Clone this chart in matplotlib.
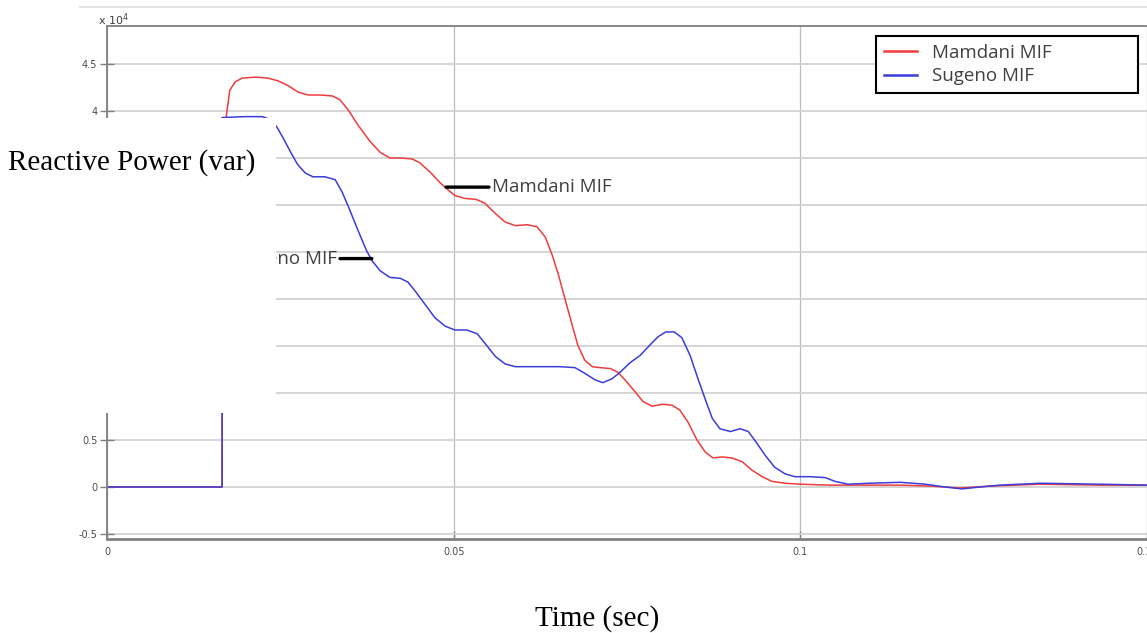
"""Reactive power of the Mamdani and Sugeno MIF controllers, MATLAB-figure look."""
import matplotlib
matplotlib.use("Agg")

import matplotlib.pyplot as plt
from matplotlib.lines import Line2D
from matplotlib.patches import Rectangle
from matplotlib.ticker import FuncFormatter

# time in seconds, reactive power in units of 1e4 var
mamdani_t = [0, 0.0166, 0.0167, 0.0172, 0.0177, 0.0185, 0.0195, 0.0214, 0.0232,
             0.0247, 0.0261, 0.0276, 0.0290, 0.0307, 0.0325, 0.0336, 0.0348,
             0.0362, 0.0379, 0.0394, 0.0408, 0.0423, 0.0440, 0.0451, 0.0466,
             0.0480, 0.0492, 0.0502, 0.0516, 0.0532, 0.0545, 0.0560, 0.0574,
             0.0589, 0.0606, 0.0620, 0.0632, 0.0642, 0.0651, 0.0661, 0.0671,
             0.0679, 0.0689, 0.0700, 0.0711, 0.0726, 0.0737, 0.0747, 0.0762,
             0.0773, 0.0786, 0.0801, 0.0815, 0.0826, 0.0838, 0.0851, 0.0863,
             0.0874, 0.0887, 0.0901, 0.0916, 0.0930, 0.0945, 0.0959, 0.0978,
             0.1000, 0.1043, 0.1086, 0.1144, 0.1187, 0.1230, 0.1274, 0.1346,
             0.1432, 0.1500]
mamdani_q = [0, 0, 3.59, 3.94, 4.22, 4.31, 4.35, 4.36, 4.35, 4.32, 4.27, 4.20,
             4.17, 4.17, 4.16, 4.12, 4.01, 3.85, 3.68, 3.56, 3.50, 3.50, 3.49,
             3.45, 3.35, 3.24, 3.16, 3.10, 3.07, 3.06, 3.02, 2.91, 2.82, 2.78,
             2.79, 2.77, 2.66, 2.47, 2.26, 1.99, 1.72, 1.51, 1.35, 1.28, 1.27,
             1.26, 1.22, 1.14, 1.01, 0.91, 0.86, 0.88, 0.87, 0.82, 0.69, 0.50,
             0.37, 0.31, 0.32, 0.31, 0.27, 0.18, 0.11, 0.06, 0.04, 0.03, 0.02,
             0.02, 0.02, 0.01, -0.01, 0.01, 0.03, 0.02, 0.02]

sugeno_t = [0, 0.0166, 0.0166, 0.0199, 0.0224, 0.0235, 0.0245, 0.0255, 0.0265,
            0.0275, 0.0286, 0.0297, 0.0314, 0.0329, 0.0339, 0.0350, 0.0362,
            0.0374, 0.0382, 0.0394, 0.0408, 0.0423, 0.0434, 0.0446, 0.0459,
            0.0473, 0.0488, 0.0502, 0.0519, 0.0534, 0.0545, 0.0560, 0.0574,
            0.0589, 0.0610, 0.0632, 0.0653, 0.0675, 0.0689, 0.0704, 0.0715,
            0.0728, 0.0740, 0.0754, 0.0769, 0.0783, 0.0795, 0.0806, 0.0818,
            0.0829, 0.0841, 0.0852, 0.0863, 0.0873, 0.0884, 0.0899, 0.0913,
            0.0925, 0.0936, 0.0949, 0.0963, 0.0978, 0.0992, 0.1014, 0.1036,
            0.1050, 0.1069, 0.1100, 0.1144, 0.1180, 0.1209, 0.1233, 0.1259,
            0.1288, 0.1346, 0.1432, 0.1500]
sugeno_q = [0, 0, 3.93, 3.94, 3.94, 3.91, 3.83, 3.70, 3.56, 3.43, 3.34, 3.30,
            3.30, 3.27, 3.14, 2.95, 2.73, 2.52, 2.41, 2.30, 2.23, 2.22, 2.18,
            2.07, 1.94, 1.80, 1.71, 1.67, 1.67, 1.63, 1.53, 1.39, 1.31, 1.28,
            1.28, 1.28, 1.28, 1.27, 1.21, 1.14, 1.11, 1.15, 1.22, 1.32, 1.40,
            1.51, 1.60, 1.65, 1.65, 1.59, 1.40, 1.16, 0.93, 0.73, 0.62, 0.59,
            0.62, 0.59, 0.48, 0.34, 0.21, 0.14, 0.11, 0.11, 0.10, 0.06, 0.03,
            0.04, 0.05, 0.03, 0.00, -0.02, 0.00, 0.02, 0.04, 0.03, 0.02]

x_ticks = [0, 0.05, 0.1, 0.15]
y_ticks = [-0.5, 0, 0.5, 1, 1.5, 2, 2.5, 3, 3.5, 4, 4.5]

RED = "#f03c3c"
BLUE = "#3c3cdc"
AXIS = "#808080"
TICKTXT = "#4d4d4d"
NOTE = "#404040"

W, H = 1147, 633
fig = plt.figure(figsize=(W / 100, H / 100), dpi=100, facecolor="white")


def fx(px):
    return px / W


def fy(py):
    return 1 - py / H


ax = fig.add_axes([fx(107), fy(539), fx(1147 - 107), (539 - 26) / H])
ax.plot(mamdani_t, mamdani_q, color=RED, lw=1.1, solid_joinstyle="round")
ax.plot(sugeno_t, sugeno_q, color=BLUE, lw=1.1, solid_joinstyle="round")
ax.set_xlim(0, 0.15)
ax.set_ylim(-0.553, 4.904)

ax.set_xticks(x_ticks)
ax.set_yticks(y_ticks)
ax.xaxis.set_major_formatter(FuncFormatter(lambda v, _: f"{v:g}"))
ax.yaxis.set_major_formatter(FuncFormatter(lambda v, _: f"{v:g}"))
ax.tick_params(axis="both", labelsize=7, labelcolor=TICKTXT, color=AXIS)
ax.tick_params(axis="y", direction="inout", length=10, width=1.0, pad=2)
ax.tick_params(axis="x", direction="in", length=6, width=1.0, pad=6)

ax.grid(axis="y", color="#d2d2d2", lw=1.3)
ax.grid(axis="x", color="#bcbcbc", lw=0.9)
ax.set_axisbelow(True)
ax.spines["right"].set_visible(False)
for side, lw in (("left", 1.3), ("top", 1.3), ("bottom", 2.0)):
    ax.spines[side].set_color(AXIS)
    ax.spines[side].set_linewidth(lw)

handles = [Line2D([], [], color=RED, lw=1.8), Line2D([], [], color=BLUE, lw=1.8)]
leg = ax.legend(handles, ["Mamdani MIF", "Sugeno MIF"], loc="upper left",
                bbox_to_anchor=(fx(876), fy(96), fx(1138 - 876), 60 / H),
                bbox_transform=fig.transFigure, mode="expand",
                borderaxespad=0, fancybox=False, framealpha=1, handlelength=1.8,
                handletextpad=0.8, borderpad=0.4, labelspacing=0.3,
                prop={"family": "Open Sans", "size": 13.5})
leg.get_frame().set_edgecolor("black")
leg.get_frame().set_linewidth(1.5)
for t in leg.get_texts():
    t.set_color(NOTE)

arrow = dict(arrowstyle="-", color="black", lw=2.4, shrinkA=0, shrinkB=0)
ax.annotate("Mamdani MIF", xy=(0.0489, 3.19), xytext=(0.0555, 3.19),
            ha="left", va="center", fontsize=13.5, family="Open Sans",
            color=NOTE, arrowprops=arrow)
ax.annotate("Sugeno MIF", xy=(0.0382, 2.43), xytext=(0.0332, 2.43),
            ha="right", va="center", fontsize=13.5, family="Open Sans",
            color=NOTE, arrowprops=arrow)

fig.text(fx(98), fy(20), r"x 10$^{4}$", fontsize=8, color=NOTE, va="center")
fig.add_artist(Line2D([fx(80), 1], [fy(7), fy(7)], color="#e2e2e2", lw=1.5))

# pasted-over white patch with the hand-set axis label
fig.add_artist(Rectangle((0, fy(413)), fx(276), (413 - 118) / H,
                         transform=fig.transFigure, facecolor="white",
                         edgecolor="none", zorder=10))
fig.text(fx(8), fy(170), "Reactive Power (var)", family="Liberation Serif",
         fontsize=21, color="black", va="baseline", zorder=11)
fig.text(fx(597), fy(626), "Time (sec)", family="Liberation Serif",
         fontsize=21, color="black", ha="center", va="baseline", zorder=11)

fig.savefig("out.png", dpi=100, facecolor="white")
